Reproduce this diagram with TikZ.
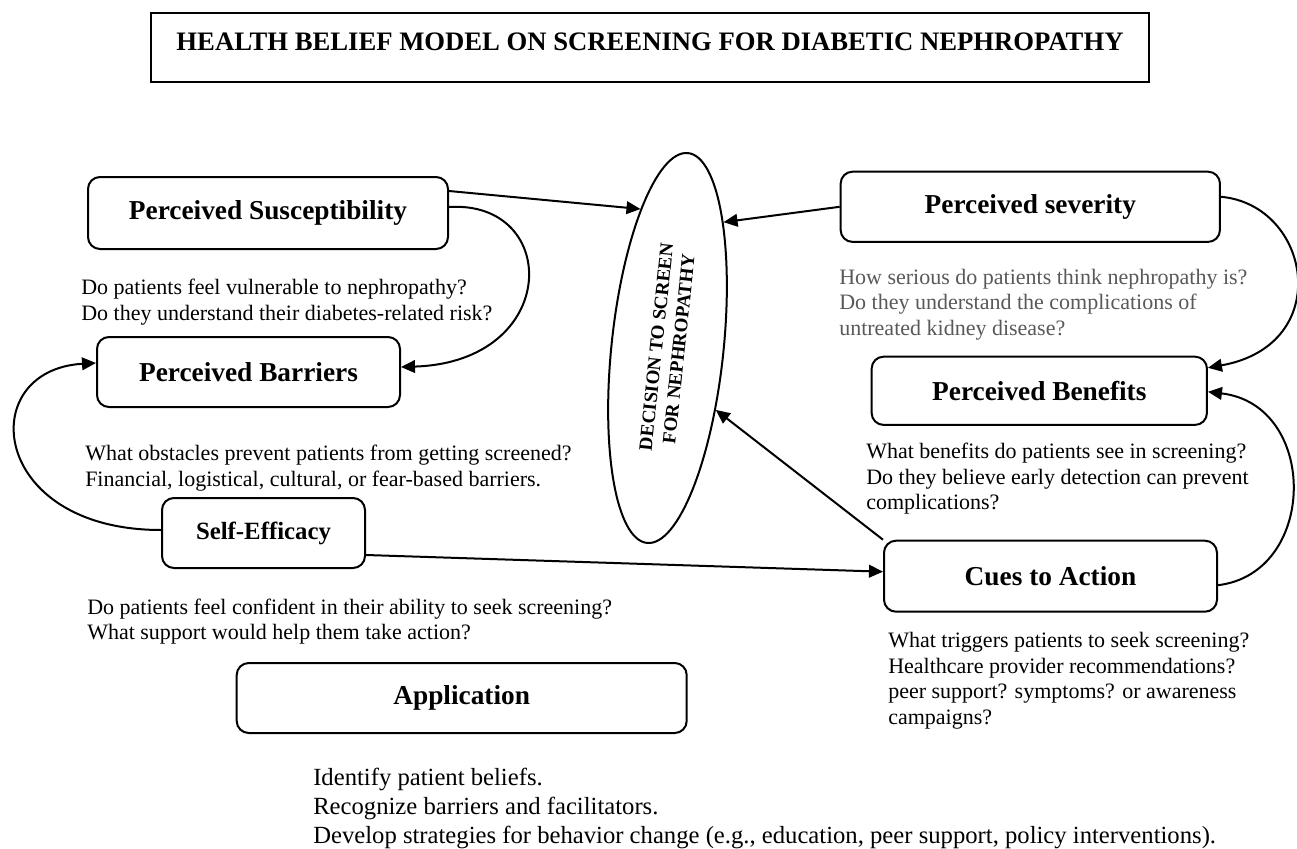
\documentclass[tikz,border=0pt]{standalone}
\usepackage{fontspec}
\setmainfont{Liberation Serif}
\usetikzlibrary{arrows.meta,shapes.geometric,calc}
\definecolor{sevgray}{HTML}{595959}
\begin{document}
\begin{tikzpicture}[x=0.75pt,y=-0.75pt,
  box/.style={draw, line width=1.5pt, rounded corners=9pt, inner sep=0pt,
    font=\fontsize{20.5}{24}\selectfont\bfseries},
  note/.style={anchor=base west, align=left, inner sep=0pt,
    font=\fontsize{16.5}{19.1}\selectfont},
  link/.style={line width=1.5pt, -{Triangle[length=10.5pt,width=9.5pt]}},
]
\fill[white] (0,0) rectangle (1297,849);
\useasboundingbox (0,0) rectangle (1297,849);

% title
\node[draw, line width=1.8pt, minimum width=748.5pt, inner sep=0pt,
  text height=28pt, text depth=23.8pt, anchor=north,
  font=\fontsize{20}{24}\selectfont\bfseries] (title) at (650,11.7)
  {HEALTH BELIEF MODEL ON SCREENING FOR DIABETIC NEPHROPATHY};

% boxes
\node[box, minimum width=270pt, minimum height=54pt] (sus) at (268,213) {Perceived Susceptibility};
\node[box, minimum width=227.25pt, minimum height=52.5pt] (bar) at (248.5,372) {Perceived Barriers};
\node[box, minimum width=284.5pt, minimum height=52.7pt] (sev) at (1030.3,206.8) {Perceived severity};
\node[box, minimum width=251.5pt, minimum height=51.2pt] (ben) at (1039.3,390.8) {Perceived Benefits};
\node[box, minimum width=249.75pt, minimum height=53.25pt] (cues) at (1050.5,576.2) {Cues to Action};
\node[box, minimum width=152.25pt, minimum height=52.5pt, font=\fontsize{18.6}{22}\selectfont\bfseries] (self) at (263.5,533) {Self-Efficacy};
\node[box, minimum width=337.5pt, minimum height=52.5pt] (app) at (461.7,698) {Application};

% decision ellipse
\node[ellipse, draw, line width=1.5pt, minimum width=294pt, minimum height=84pt,
  inner sep=0pt, rotate=84, align=center,
  font=\fontsize{14.3}{17}\selectfont\bfseries] (ell) at (667.5,348)
  {DECISION TO SCREEN\\FOR NEPHROPATHY};

% texts (anchored at the baseline of their last line)
\node[note] (susq) at (81,320) {Do patients feel vulnerable to nephropathy?\\Do they understand their diabetes-related risk?};
\node[note] (barq) at (85,486) {What obstacles prevent patients from getting screened?\\Financial, logistical, cultural, or fear-based barriers.};
\node[note, text=sevgray] (sevq) at (839,335) {How serious do patients think nephropathy is?\\Do they understand the complications of\\untreated kidney disease?};
\node[note] (benq) at (866,509.5) {What benefits do patients see in screening?\\Do they believe early detection can prevent\\complications?};
\node[note] (cueq) at (888,724) {What triggers patients to seek screening?\\Healthcare provider recommendations?\\peer support? symptoms? or awareness\\campaigns?};
\node[note] (selfq) at (87,639.5) {Do patients feel confident in their ability to seek screening?\\What support would help them take action?};
\node[note, font=\fontsize{18.5}{21.5}\selectfont] (appq) at (313,843) {Identify patient beliefs.\\Recognize barriers and facilitators.\\Develop strategies for behavior change (e.g., education, peer support, policy interventions).};

% connectors
\draw[link] ($(sus.east)+(0,-22)$) -- (ell.17);
\draw[link] ($(sus.east)+(0,-6)$) .. controls +(112,-7) and +(160,-5) .. ($(bar.east)+(0,-5)$);
\draw[link] (sev.west) -- (ell.-18);
\draw[link] ($(sev.east)+(0,-10)$) .. controls +(90,8) and +(128,-23) .. ($(ben.east)+(0,-23)$);
\draw[link] ($(cues.east)+(0,9)$) .. controls +(100,-12) and +(111,13) .. ($(ben.east)+(0,1)$);
\draw[link] (cues.north west) -- (ell.224);
\draw[link] ($(self.east)+(0,22)$) -- ($(cues.west)+(0,-4.5)$);
\draw[link] ($(self.west)+(0,-3)$) .. controls +(-172,0) and +(-122,7) .. ($(bar.west)+(0,-9)$);
\end{tikzpicture}
\end{document}
